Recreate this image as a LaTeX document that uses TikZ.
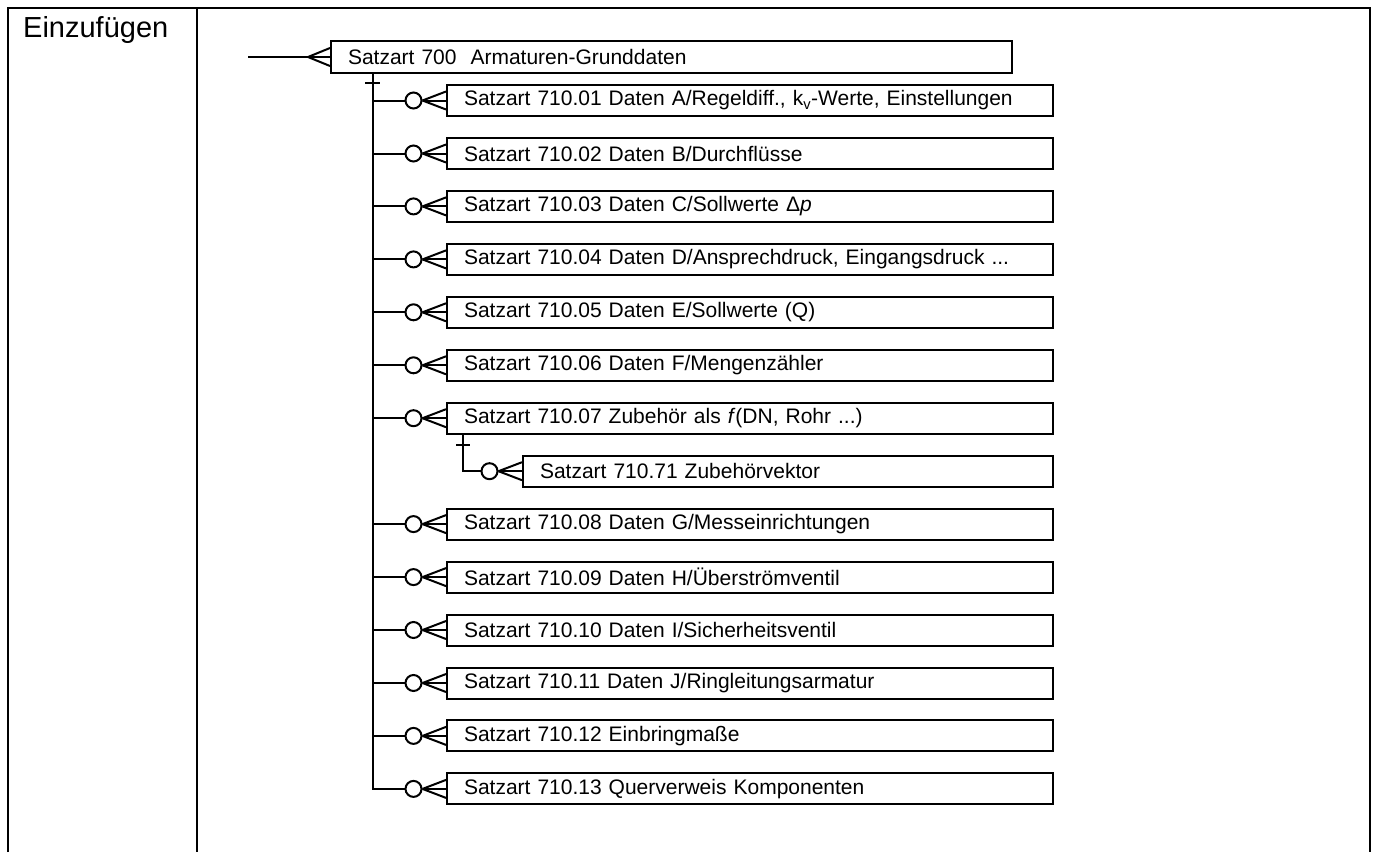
\documentclass[tikz,border=0pt]{standalone}
\usepackage{fontspec}
\setmainfont{Liberation Sans}
\usetikzlibrary{calc}
\tikzset{
  lbl/.style={font=\fontsize{21}{25}\selectfont},
  rec/.style={draw, line width=2pt, rectangle, minimum height=31pt, inner ysep=0pt,
    inner xsep=17pt, anchor=west, align=left, text width=572pt, lbl},
  subrec/.style={rec, text width=496pt},
  mainrec/.style={rec, text width=647pt, minimum height=32pt},
  opt/.style={draw, circle, line width=2pt, minimum size=16pt, inner sep=0pt},
  conn/.style={line width=2pt},
  frame/.style={line width=2.5pt}
}
\begin{document}
\begin{tikzpicture}[x=1pt,y=-1pt]
\useasboundingbox (0,0) rectangle (1374,852);
% frame
\draw[frame] (8,852) -- (8,8) -- (1370,8) -- (1370,852);
\draw[line width=2pt] (197,8) -- (197,852);
\node[anchor=base west, font=\fontsize{29}{32}\selectfont, inner sep=0pt] (head) at (23,37) {Einzufügen};
% main box
\node[mainrec] (m) at (330,57) {Satzart 700\ \ Armaturen-Grunddaten};
\coordinate (in) at (248,57);
\coordinate (ma) at (308,57);
\draw[conn] (in) -- (m.west);
\draw[conn] (ma) -- ($(m.west)+(0,-9)$);
\draw[conn] (ma) -- ($(m.west)+(0,9)$);
% rows
\foreach \n/\y in {1/100.5,2/153.5,3/206.4,4/259.4,5/312.3,6/365.3,7/418.2,8/524.1,9/577.1,10/630,11/683,12/735.9,13/788.9}{
  \coordinate (t\n) at (372.5,\y);
  \node[opt] (c\n) at (413.5,\y) {};
}
\node[rec] (r1) at (446,100.5) {Satzart 710.01 Daten A/Regeldiff., k\textsubscript{v}-Werte, Einstellungen};
\node[rec] (r2) at (446,153.5) {Satzart 710.02 Daten B/Durchflüsse};
\node[rec] (r3) at (446,206.4) {Satzart 710.03 Daten C/Sollwerte Δ\textit{p}};
\node[rec] (r4) at (446,259.4) {Satzart 710.04 Daten D/Ansprechdruck, Eingangsdruck ...};
\node[rec] (r5) at (446,312.3) {Satzart 710.05 Daten E/Sollwerte (Q)};
\node[rec] (r6) at (446,365.3) {Satzart 710.06 Daten F/Mengenzähler};
\node[rec] (r7) at (446,418.2) {Satzart 710.07 Zubehör als \textit{f}(DN, Rohr ...)};
\node[rec] (r8) at (446,524.1) {Satzart 710.08 Daten G/Messeinrichtungen};
\node[rec] (r9) at (446,577.1) {Satzart 710.09 Daten H/Überströmventil};
\node[rec] (r10) at (446,630) {Satzart 710.10 Daten I/Sicherheitsventil};
\node[rec] (r11) at (446,683) {Satzart 710.11 Daten J/Ringleitungsarmatur};
\node[rec] (r12) at (446,735.9) {Satzart 710.12 Einbringmaße};
\node[rec] (r13) at (446,788.9) {Satzart 710.13 Querverweis Komponenten};
% trunk
\draw[conn] (m.south -| t1) -- (t13) -- (c13.west);
\draw[conn] (365,83) -- (380,83);
\foreach \n in {1,...,13}{
  \draw[conn] (t\n) -- (c\n.west);
  \draw[conn] (c\n.east) -- (r\n.west);
  \draw[conn] (c\n.east) -- ($(r\n.west)+(0,-9)$);
  \draw[conn] (c\n.east) -- ($(r\n.west)+(0,9)$);
}
% sub row
\node[subrec] (s) at (522,471.2) {Satzart 710.71 Zubehörvektor};
\node[opt] (cs) at (489.5,471.2) {};
\coordinate (ts) at (463,471.2);
\draw[conn] (r7.south -| ts) -- (ts) -- (cs.west);
\draw[conn] (456,445) -- (470,445);
\draw[conn] (cs.east) -- (s.west);
\draw[conn] (cs.east) -- ($(s.west)+(0,-9)$);
\draw[conn] (cs.east) -- ($(s.west)+(0,9)$);
\end{tikzpicture}
\end{document}
